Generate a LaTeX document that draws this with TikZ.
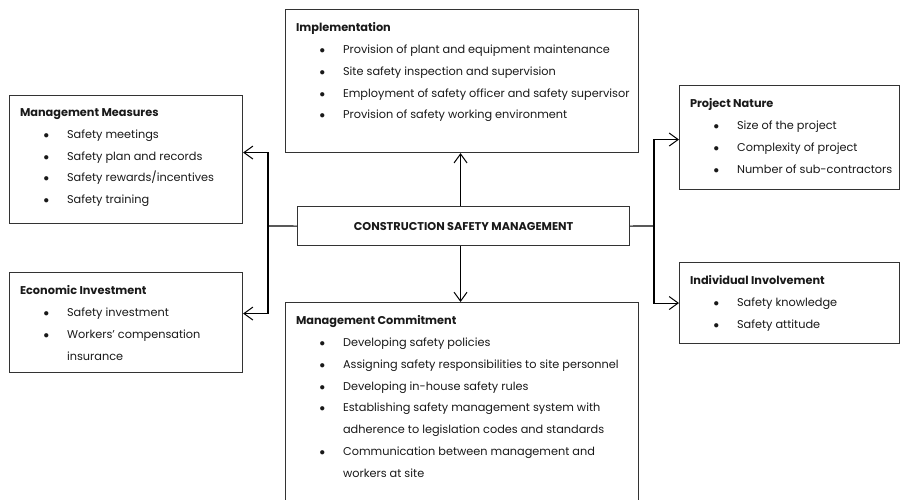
\documentclass[tikz,border=0pt]{standalone}
\usepackage{fontspec}
\setmainfont{Poppins}
\usetikzlibrary{arrows.meta}

\newcommand{\bl}{\makebox[47pt][l]{\hspace{23.5pt}$\bullet$}}
\newcommand{\nobl}{\hspace*{47pt}}

\begin{document}
\begin{tikzpicture}[x=1pt,y=-1pt,line width=1.1pt,>={Straight Barb[length=9pt,width=13pt,line width=1pt]}]
        \tikzstyle{every node}=[font=\fontsize{11.3}{21.8}\selectfont,text=black!90]
        \tikzstyle{block}=[draw=black!80,rectangle,inner sep=0pt,anchor=north west]
        \tikzstyle{list}=[anchor=north west,align=left,inner sep=0pt]
        \useasboundingbox (0,0) rectangle (900,499);
        \clip (0,0) rectangle (900,499);
        % boxes
        \node[block,minimum width=353pt,minimum height=143pt] (impl) at (285,9) {};
        \node[block,minimum width=233pt,minimum height=128pt] (meas) at (9,95) {};
        \node[block,minimum width=233pt,minimum height=100pt] (econ) at (9,272) {};
        \node[block,minimum width=332pt,minimum height=39pt] (csm) at (297,206) {\textbf{CONSTRUCTION SAFETY MANAGEMENT}};
        \node[block,minimum width=353pt,minimum height=210pt] (commit) at (285,302) {};
        \node[block,minimum width=220pt,minimum height=104pt] (nature) at (679,85) {};
        \node[block,minimum width=220pt,minimum height=81pt] (indiv) at (679,262) {};
        % texts
        \node[list] (impl-t) at ([shift={(10.5,13)}]impl.north west) {\textbf{Implementation}\\ \bl Provision of plant and equipment maintenance\\ \bl Site safety inspection and supervision\\ \bl Employment of safety officer and safety supervisor\\ \bl Provision of safety working environment};
        \node[list] (meas-t) at ([shift={(10.5,13)}]meas.north west) {\textbf{Management Measures}\\ \bl Safety meetings\\ \bl Safety plan and records\\ \bl Safety rewards/incentives\\ \bl Safety training};
        \node[list] (econ-t) at ([shift={(10.5,13)}]econ.north west) {\textbf{Economic Investment}\\ \bl Safety investment\\ \bl Workers' compensation\\ \nobl insurance};
        \node[list] (commit-t) at ([shift={(10.5,13)}]commit.north west) {\textbf{Management Commitment}\\ \bl Developing safety policies\\ \bl Assigning safety responsibilities to site personnel\\ \bl Developing in-house safety rules\\ \bl Establishing safety management system with\\ \nobl adherence to legislation codes and standards\\ \bl Communication between management and\\ \nobl workers at site};
        \node[list] (nature-t) at ([shift={(10.5,13)}]nature.north west) {\textbf{Project Nature}\\ \bl Size of the project\\ \bl Complexity of project\\ \bl Number of sub-contractors};
        \node[list] (indiv-t) at ([shift={(10.5,13)}]indiv.north west) {\textbf{Individual Involvement}\\ \bl Safety knowledge\\ \bl Safety attitude};
        % connectors
        \coordinate (lj) at (268,226);
        \coordinate (rj) at (654,226);
        \draw (csm.west) -- (lj);
        \draw[->] (lj) |- ([yshift=7pt]meas.east);
        \draw[->] (lj) |- ([yshift=9pt]econ.east);
        \draw (csm.east) -- (rj);
        \draw[->] (rj) |- ([yshift=-2pt]nature.west);
        \draw[->] (rj) |- (indiv.west);
        \draw[->] ([xshift=-3pt]csm.north) -- ([xshift=-3pt]csm.north |- impl.south);
        \draw[->] ([xshift=-3pt]csm.south) -- ([xshift=-3pt]csm.south |- commit.north);
    \end{tikzpicture}
\end{document}
